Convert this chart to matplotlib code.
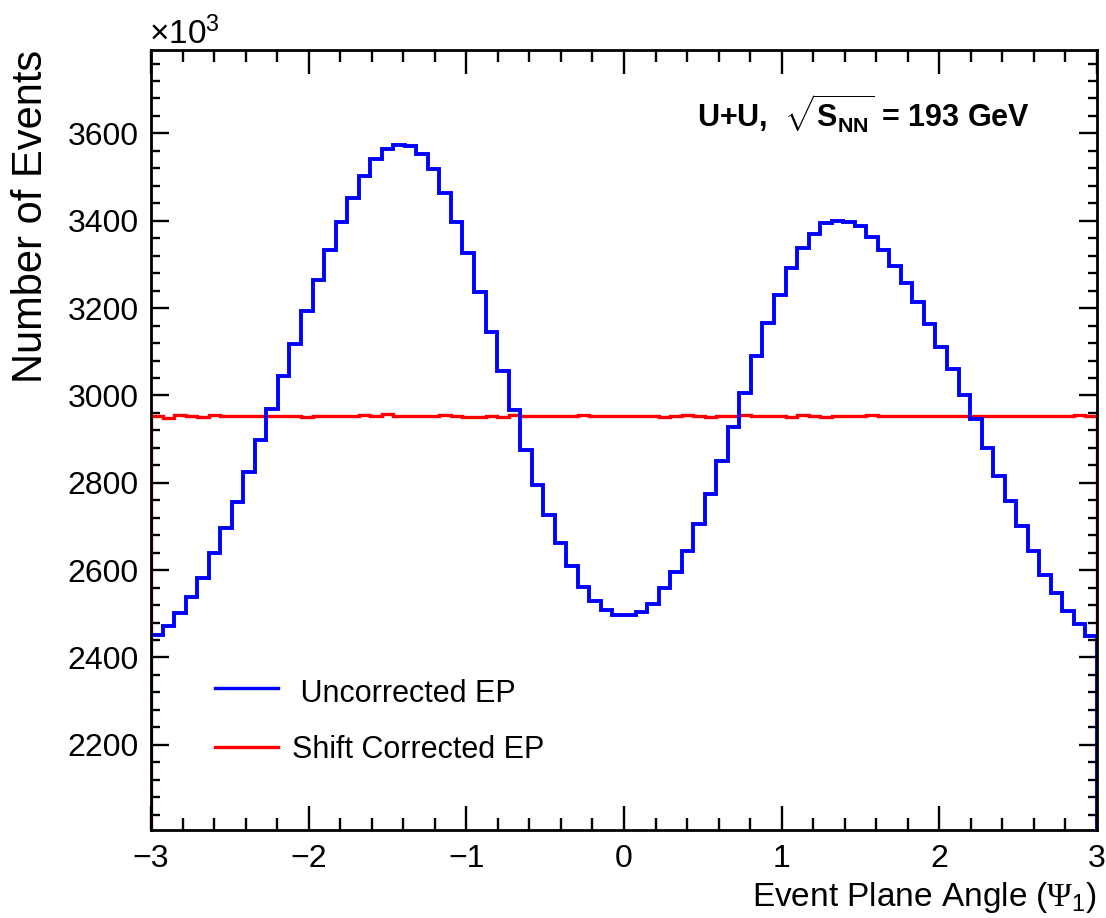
import numpy as np
import matplotlib
matplotlib.use("Agg")
import matplotlib.pyplot as plt
from matplotlib.ticker import MultipleLocator

plt.rcParams['font.family'] = ['Liberation Sans', 'DejaVu Sans']
plt.rcParams['mathtext.fontset'] = 'custom'
plt.rcParams['mathtext.rm'] = 'Liberation Serif'
plt.rcParams['mathtext.sf'] = 'Liberation Sans'
plt.rcParams['mathtext.bf'] = 'Liberation Sans:bold'

# 82 bins from -3 to 3, counts in units of 10^3 events
bin_edges = np.linspace(-3, 3, 83)

uncorrected = [2451, 2472, 2503, 2539, 2583, 2640, 2697, 2756, 2825, 2897,
               2970, 3044, 3118, 3194, 3265, 3332, 3397, 3451, 3503, 3541,
               3564, 3573, 3571, 3554, 3518, 3464, 3397, 3326, 3238, 3145,
               3055, 2966, 2876, 2796, 2727, 2663, 2609, 2562, 2529, 2509,
               2497, 2497, 2505, 2523, 2558, 2596, 2644, 2706, 2775, 2851,
               2927, 3006, 3091, 3166, 3230, 3291, 3338, 3370, 3394, 3400,
               3397, 3389, 3362, 3333, 3297, 3257, 3214, 3164, 3111, 3061,
               3002, 2945, 2880, 2815, 2758, 2702, 2644, 2590, 2548, 2506,
               2476, 2449]

shift_corrected = [2953, 2948, 2955, 2952, 2951, 2956, 2952, 2953, 2952, 2954,
                   2954, 2953, 2952, 2951, 2952, 2953, 2952, 2954, 2955, 2953,
                   2957, 2952, 2953, 2954, 2952, 2955, 2952, 2951, 2951, 2954,
                   2951, 2955, 2953, 2952, 2952, 2954, 2953, 2955, 2953, 2953,
                   2953, 2952, 2954, 2953, 2951, 2953, 2955, 2953, 2951, 2953,
                   2953, 2955, 2954, 2952, 2954, 2951, 2955, 2952, 2951, 2954,
                   2952, 2954, 2955, 2953, 2952, 2952, 2953, 2952, 2953, 2954,
                   2953, 2952, 2954, 2952, 2954, 2952, 2953, 2952, 2954, 2953,
                   2955, 2953]

W, H = 1106, 918
fig = plt.figure(figsize=(W / 100, H / 100), dpi=100)
ax = fig.add_axes([151 / W, 1 - 830 / H, 946 / W, 780 / H])

ax.stairs(shift_corrected, bin_edges, color='#ff0000', linewidth=2.4)
ax.stairs(uncorrected, bin_edges, color='#0000ff', linewidth=2.8)

ax.set_xlim(-3, 3)
ax.set_ylim(2005, 3791)
ax.xaxis.set_major_locator(MultipleLocator(1))
ax.xaxis.set_minor_locator(MultipleLocator(0.2))
ax.yaxis.set_major_locator(MultipleLocator(200))
ax.yaxis.set_minor_locator(MultipleLocator(40))

ax.tick_params(which='both', direction='in', top=True, right=True,
               width=1.7, labelsize=23)
ax.tick_params(axis='x', which='major', length=17, pad=10)
ax.tick_params(axis='x', which='minor', length=8.5)
ax.tick_params(axis='y', which='major', length=13, pad=9)
ax.tick_params(axis='y', which='minor', length=6.5)
for s in ax.spines.values():
    s.set_linewidth(2)

# axis titles, ROOT style: aligned to the far end of each axis
fig.text(1097 / W, 1 - 906 / H, r'Event Plane Angle ($\Psi_{\mathsf{1}}$)',
         ha='right', va='baseline', fontsize=24)
fig.text(31.5 / W, 1 - 50 / H, 'Number of Events', rotation=90,
         ha='center', va='top', fontsize=30)
fig.text(149 / W, 1 - 44 / H, r'×$\mathsf{10^{3}}$', ha='left',
         va='baseline', fontsize=24)

ax.text(0.929, 0.900, r'U+U,  $\sqrt{\mathbf{S}_{\mathbf{NN}}}$ = 193 GeV',
        transform=ax.transAxes, ha='right', va='baseline',
        fontsize=22, fontweight='bold')

# legend
ax.plot([0.0677, 0.1342], [0.182, 0.182], color='#0000ff', linewidth=2.4,
        transform=ax.transAxes)
ax.plot([0.0677, 0.1342], [0.106, 0.106], color='#ff0000', linewidth=2.4,
        transform=ax.transAxes)
ax.text(0.149, 0.1641, ' Uncorrected EP', transform=ax.transAxes,
        ha='left', va='baseline', fontsize=22)
ax.text(0.149, 0.0923, 'Shift Corrected EP', transform=ax.transAxes,
        ha='left', va='baseline', fontsize=22)

fig.savefig('out.png', dpi=100)
